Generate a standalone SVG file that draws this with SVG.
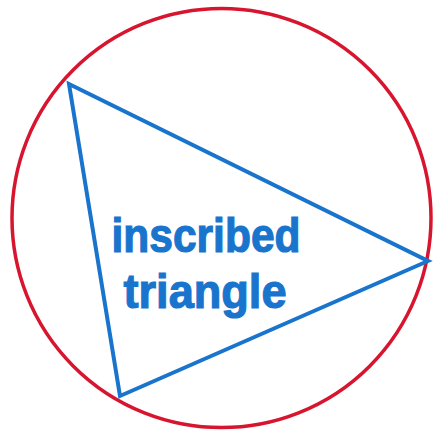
<svg xmlns="http://www.w3.org/2000/svg" width="434" height="433" viewBox="0 0 434 433">
  <style>
    .circ { fill: none; stroke: #D8152F; stroke-width: 3.5; }
    .tri { fill: none; stroke: #1874CC; stroke-width: 4; stroke-linejoin: miter; }
    .lbl { font-family: "Liberation Sans", Arial, sans-serif; font-weight: bold; font-size: 48px; fill: #1874CC; stroke: #1874CC; stroke-width: 1.2; text-anchor: middle; }
  </style>
  <rect width="434" height="433" fill="#ffffff"/>
  <g id="circle">
    <circle class="circ" cx="221.5" cy="218" r="209.5"/>
  </g>
  <g id="triangle">
    <polygon class="tri" points="69,84 428,261 120,396"/>
  </g>
  <g id="label">
    <text class="lbl" x="206" y="252" textLength="189" lengthAdjust="spacingAndGlyphs">inscribed</text>
    <text class="lbl" x="205" y="308" textLength="163" lengthAdjust="spacingAndGlyphs">triangle</text>
  </g>
</svg>
